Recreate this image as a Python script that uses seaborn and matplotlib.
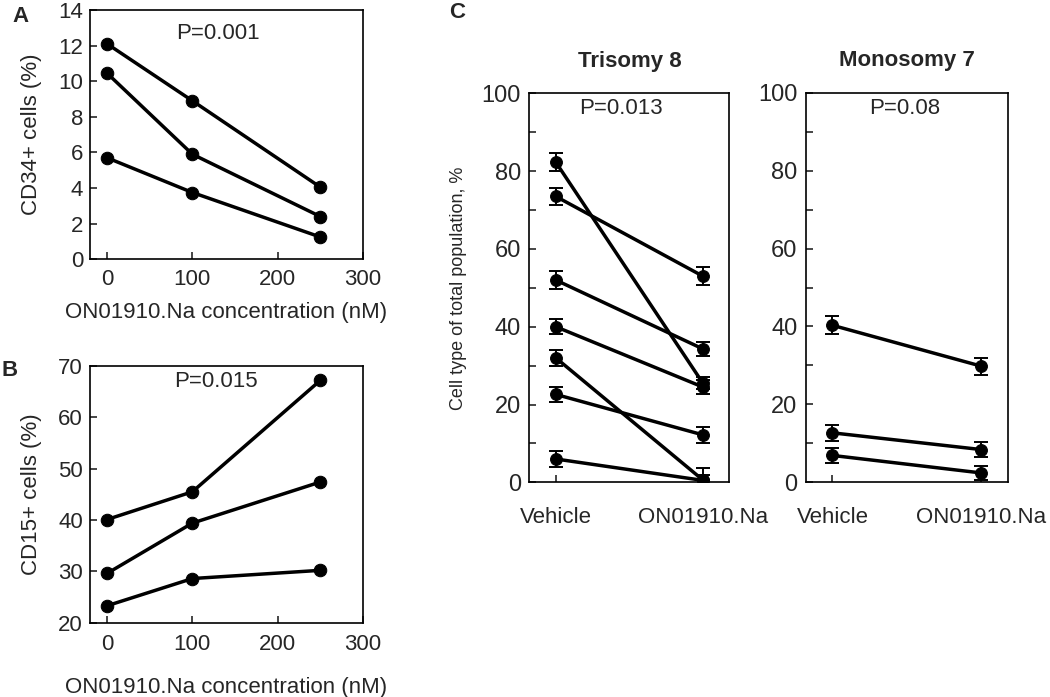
import matplotlib
matplotlib.use('Agg')
import matplotlib.pyplot as plt
from matplotlib.ticker import MultipleLocator
import seaborn as sns
import pandas as pd

sns.set_style('ticks')
plt.rcParams['font.family'] = ['Liberation Sans', 'DejaVu Sans']

# ---------------- data ----------------
conc = [0, 100, 250]
cd34_s1 = [12.1, 8.9, 4.05]
cd34_s2 = [10.45, 5.9, 2.4]
cd34_s3 = [5.7, 3.75, 1.25]

cd15_s1 = [40.1, 45.5, 67.2]
cd15_s2 = [29.6, 39.4, 47.4]
cd15_s3 = [23.3, 28.6, 30.2]

groups = ['Vehicle', 'ON01910.Na']
tri_vehicle = [82.3, 73.5, 52.0, 40.0, 32.0, 22.6, 6.0]
tri_treated = [25.5, 53.0, 34.3, 24.5, 0.6, 12.2, 0.5]
tri_vehicle_err = [2.3, 2.2, 2.3, 1.9, 2.0, 1.9, 2.0]
tri_treated_err = [1.6, 2.3, 1.9, 1.8, 3.0, 2.0, 1.5]

mono_vehicle = [40.3, 12.7, 6.9]
mono_treated = [29.8, 8.4, 2.4]
mono_vehicle_err = [2.3, 2.0, 2.0]
mono_treated_err = [2.2, 1.9, 1.9]

p_a, p_b, p_tri, p_mono = 'P=0.001', 'P=0.015', 'P=0.013', 'P=0.08'

# ---------------- helpers ----------------
LW = 2.5
MS = 9
FS = 16


def conc_frame(series):
    rows = []
    for i, s in enumerate(series):
        for x, y in zip(conc, s):
            rows.append({'conc': x, 'value': y, 'unit': i})
    return pd.DataFrame(rows)


def pair_frame(veh, trt, veh_err, trt_err):
    rows = []
    for i in range(len(veh)):
        rows.append({'pos': 0, 'value': veh[i], 'err': veh_err[i], 'unit': i})
        rows.append({'pos': 1, 'value': trt[i], 'err': trt_err[i], 'unit': i})
    return pd.DataFrame(rows)


def style_box(ax):
    for s in ax.spines.values():
        s.set_visible(True)
        s.set_linewidth(1.2)
        s.set_color('black')


fig = plt.figure(figsize=(10.5, 6.97), dpi=100)

# ---------------- Panel A ----------------
axA = fig.add_axes([0.0857, 0.628, 0.26, 0.3577])
dfA = conc_frame([cd34_s1, cd34_s2, cd34_s3])
sns.lineplot(data=dfA, x='conc', y='value', units='unit', estimator=None,
             color='black', linewidth=LW, marker='o', markersize=MS,
             markeredgecolor='black', ax=axA, legend=False)
axA.set_xlim(-20, 300)
axA.set_ylim(0, 14)
axA.set_xticks([0, 100, 200, 300])
axA.set_yticks(range(0, 15, 2))
axA.set_xlabel('ON01910.Na concentration (nM)', fontsize=FS)
axA.set_ylabel('CD34+ cells (%)', fontsize=FS)
axA.xaxis.set_label_coords(0.5, -0.171)
axA.yaxis.set_label_coords(-0.176, 0.5)
axA.tick_params(direction='in', length=5, width=1.2, labelsize=FS)
axA.tick_params(axis='x', pad=7)
axA.tick_params(axis='y', pad=5)
axA.text(0.47, 0.904, p_a, transform=axA.transAxes, ha='center', va='center', fontsize=FS)
style_box(axA)

# ---------------- Panel B ----------------
axB = fig.add_axes([0.0857, 0.1066, 0.26, 0.3683])
dfB = conc_frame([cd15_s1, cd15_s2, cd15_s3])
sns.lineplot(data=dfB, x='conc', y='value', units='unit', estimator=None,
             color='black', linewidth=LW, marker='o', markersize=MS,
             markeredgecolor='black', ax=axB, legend=False)
axB.set_xlim(-20, 300)
axB.set_ylim(20, 70)
axB.set_xticks([0, 100, 200, 300])
axB.set_yticks(range(20, 71, 10))
axB.set_xlabel('ON01910.Na concentration (nM)', fontsize=FS)
axB.set_ylabel('CD15+ cells (%)', fontsize=FS)
axB.xaxis.set_label_coords(0.5, -0.21)
axB.yaxis.set_label_coords(-0.176, 0.5)
axB.tick_params(direction='in', length=5, width=1.2, labelsize=FS)
axB.tick_params(axis='x', pad=8)
axB.tick_params(axis='y', pad=5)
axB.text(0.46, 0.939, p_b, transform=axB.transAxes, ha='center', va='center', fontsize=FS)
style_box(axB)


# ---------------- Panel C ----------------
def pair_panel(ax, df, ptxt, px, title, ylabel=None):
    sns.lineplot(data=df, x='pos', y='value', units='unit', estimator=None,
                 color='black', linewidth=LW, marker='o', markersize=MS - 0.5,
                 markeredgecolor='black', ax=ax, legend=False)
    ax.errorbar(df['pos'], df['value'], yerr=df['err'], fmt='none',
                ecolor='black', elinewidth=1.4, capsize=5, capthick=1.4)
    ax.set_xlim(-0.18, 1.18)
    ax.set_ylim(0, 100)
    ax.set_xticks([0, 1])
    ax.set_xticklabels(groups)
    ax.yaxis.set_major_locator(MultipleLocator(20))
    ax.yaxis.set_minor_locator(MultipleLocator(10))
    ax.set_xlabel('')
    ax.tick_params(axis='both', which='both', direction='in', width=1.2)
    ax.tick_params(axis='y', which='major', length=5, labelsize=17, pad=6)
    ax.tick_params(axis='y', which='minor', length=5)
    ax.tick_params(axis='x', which='major', length=5, labelsize=FS, pad=18)
    ax.text(px, 0.96, ptxt, transform=ax.transAxes, ha='center', va='center', fontsize=FS)
    ax.set_title(title, fontsize=FS, fontweight='bold', pad=19)
    if ylabel:
        ax.set_ylabel(ylabel, fontsize=13)
        ax.yaxis.set_label_coords(-0.313, 0.5)
    else:
        ax.set_ylabel('')
    style_box(ax)


axC1 = fig.add_axes([0.5041, 0.308, 0.1905, 0.5581])
pair_panel(axC1, pair_frame(tri_vehicle, tri_treated, tri_vehicle_err, tri_treated_err),
           p_tri, 0.46, 'Trisomy 8', 'Cell type of total population, %')

axC2 = fig.add_axes([0.7673, 0.308, 0.193, 0.559])
pair_panel(axC2, pair_frame(mono_vehicle, mono_treated, mono_vehicle_err, mono_treated_err),
           p_mono, 0.49, 'Monosomy 7')

# panel letters
fig.text(20 / 1050, 1 - 16 / 697, 'A', fontsize=FS, fontweight='bold', ha='center', va='center')
fig.text(10 / 1050, 1 - 370 / 697, 'B', fontsize=FS, fontweight='bold', ha='center', va='center')
fig.text(457 / 1050, 1 - 12 / 697, 'C', fontsize=FS, fontweight='bold', ha='center', va='center')

fig.savefig('out.png', dpi=100)
